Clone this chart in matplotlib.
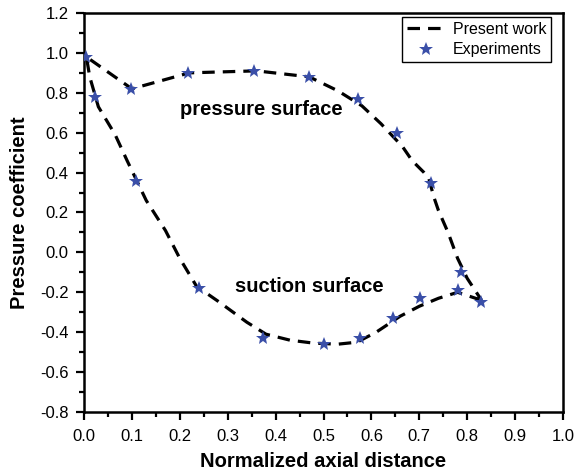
import matplotlib
matplotlib.use("Agg")
import matplotlib.pyplot as plt
from matplotlib.ticker import MultipleLocator, FormatStrFormatter

plt.rcParams['font.family'] = ['Liberation Sans', 'DejaVu Sans']
plt.rcParams['lines.scale_dashes'] = False

# "Present work" curve: pressure side (LE -> TE) then suction side (TE -> LE)
pressure_x = [0.005, 0.10, 0.22, 0.36, 0.47, 0.53, 0.58, 0.62, 0.665, 0.685, 0.71, 0.72, 0.73, 0.74, 0.76, 0.78, 0.80, 0.83]
pressure_y = [0.98, 0.82, 0.90, 0.91, 0.88, 0.81, 0.735, 0.645, 0.53, 0.46, 0.40, 0.37, 0.28, 0.21, 0.10, -0.03, -0.13, -0.24]
suction_x = [0.005, 0.012, 0.03, 0.065, 0.09, 0.13, 0.17, 0.20, 0.235, 0.28, 0.34, 0.38, 0.43, 0.48,
             0.53, 0.57, 0.61, 0.66, 0.70, 0.74, 0.78, 0.83]
suction_y = [0.98, 0.88, 0.73, 0.59, 0.46, 0.26, 0.11, -0.03, -0.17, -0.245, -0.35, -0.41, -0.44, -0.455,
             -0.46, -0.45, -0.40, -0.32, -0.27, -0.23, -0.20, -0.24]

# Experiments
exp_x = [0.004, 0.022, 0.099, 0.108, 0.218, 0.355, 0.47, 0.571, 0.653, 0.724,
         0.24, 0.374, 0.50, 0.577, 0.646, 0.701, 0.781, 0.788, 0.829]
exp_y = [0.98, 0.78, 0.82, 0.36, 0.90, 0.91, 0.88, 0.77, 0.60, 0.35,
         -0.18, -0.43, -0.46, -0.43, -0.33, -0.23, -0.19, -0.10, -0.25]

line_x = pressure_x[::-1] + suction_x[1:]
line_y = pressure_y[::-1] + suction_y[1:]

fig = plt.figure(figsize=(5.79, 4.75), dpi=100)
ax = fig.add_axes([84/579, 1-412/475, (563-84)/579, (412-13)/475])

ax.plot(line_x[::-1], line_y[::-1], color='black', lw=2.3, linestyle=(0, (9, 5.8)),
        dash_capstyle='butt', label='Present work', zorder=2)
ax.plot(exp_x, exp_y, linestyle='none', marker='*', markersize=10, color='#3a4fa8',
        markeredgewidth=0, label='Experiments', zorder=3)

ax.set_xlim(0.0, 1.0)
ax.set_ylim(-0.8, 1.2)
ax.xaxis.set_major_locator(MultipleLocator(0.1))
ax.xaxis.set_minor_locator(MultipleLocator(0.05))
ax.yaxis.set_major_locator(MultipleLocator(0.2))
ax.yaxis.set_minor_locator(MultipleLocator(0.1))
ax.xaxis.set_major_formatter(FormatStrFormatter('%.1f'))
ax.yaxis.set_major_formatter(FormatStrFormatter('%.1f'))

for s in ax.spines.values():
    s.set_linewidth(1.8)
ax.tick_params(which='major', direction='out', length=6, width=1.6, labelsize=12)
ax.tick_params(axis='x', which='major', pad=6)
ax.tick_params(axis='y', which='major', pad=5)
ax.tick_params(which='minor', direction='out', length=3.5, width=1.6)
ax.tick_params(top=False, right=False, which='both')

ax.set_xlabel('Normalized axial distance', fontsize=14.5, fontweight='bold')
ax.set_ylabel('Pressure coefficient', fontsize=14.5, fontweight='bold')
ax.xaxis.set_label_coords(0.5, -0.100)
ax.yaxis.set_label_coords(-0.115, 0.5)

ax.text(0.20, 0.714, 'pressure surface', fontsize=14.5, fontweight='bold', va='center', ha='left')
ax.text(0.315, -0.173, 'suction surface', fontsize=14.5, fontweight='bold', va='center', ha='left')

leg = ax.legend(loc='upper right', bbox_to_anchor=((551-84)/479, (412-17)/399),
                fontsize=11.5, frameon=True, fancybox=False, shadow=False,
                borderaxespad=0.0, handlelength=2.4, handletextpad=0.45, borderpad=0.3,
                labelspacing=0.34, framealpha=1)
leg.get_frame().set_edgecolor('black')
leg.get_frame().set_linewidth(1.0)

fig.savefig('out.png', dpi=100)
